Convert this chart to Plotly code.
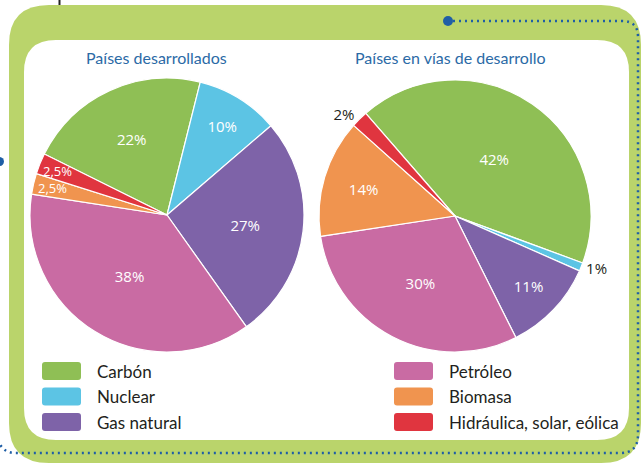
import math
import plotly.graph_objs as go

W, H = 642, 466

categorias = ['Carbón', 'Nuclear', 'Gas natural', 'Petróleo', 'Biomasa', 'Hidráulica, solar, eólica']
colores = ['#8fbf55', '#5cc4e4', '#7e63a8', '#c96ba3', '#f0944f', '#e0353f']
desarrollados = [22, 10, 27, 38, 2.5, 2.5]
en_desarrollo = [42, 1, 11, 30, 14, 2]
titulos = ['Países desarrollados', 'Países en vías de desarrollo']

AZUL = '#1f5ea6'
TITULO = '#2b6aa6'
TEXTO = '#231f20'


def px(x):
    return x / W


def py(y):
    return 1 - y / H


def p(x, y):
    return f'{px(x)},{py(y)}'


def etiqueta(v):
    return f'{v:g}'.replace('.', ',') + '%'


def rect_redondeado(x0, y0, x1, y1, r):
    return (f'M {p(x0 + r, y0)} L {p(x1 - r, y0)} Q {p(x1, y0)} {p(x1, y0 + r)} '
            f'L {p(x1, y1 - r)} Q {p(x1, y1)} {p(x1 - r, y1)} '
            f'L {p(x0 + r, y1)} Q {p(x0, y1)} {p(x0, y1 - r)} '
            f'L {p(x0, y0 + r)} Q {p(x0, y0)} {p(x0 + r, y0)} Z')


def dominio(cx, cy, r):
    return dict(x=[px(cx - r), px(cx + r)], y=[py(cy + r), py(cy - r)])


fig = go.Figure()
annotations = []

# (valores, rotación, posición del texto, centro y radio en px)
tortas = [
    (desarrollados, -63.6, ['inside', 'inside', 'inside', 'inside', 'none', 'none'], (167, 215, 137)),
    (en_desarrollo, -41, ['inside', 'outside', 'inside', 'inside', 'inside', 'outside'], (455, 216, 136)),
]
for valores, rot, posiciones, (cx, cy, r) in tortas:
    fig.add_trace(go.Pie(
        labels=categorias,
        values=valores,
        text=[etiqueta(v) for v in valores],
        texttemplate='%{text}',
        textposition=posiciones,
        insidetextorientation='horizontal',
        sort=False,
        direction='clockwise',
        rotation=rot,
        marker=dict(colors=colores, line=dict(color='white', width=1.2)),
        insidetextfont=dict(color='white', size=15, family='Open Sans'),
        outsidetextfont=dict(color=TEXTO, size=15, family='Open Sans'),
        domain=dominio(cx, cy, r),
        showlegend=False,
        hoverinfo='label+text',
    ))
    # rebanadas finas: el texto va junto al borde, sobre la propia rebanada
    total = sum(valores)
    acum = 0
    for v, pos in zip(valores, posiciones):
        medio = math.radians(rot + (acum + v / 2) / total * 360)
        acum += v
        if pos == 'none':
            annotations.append(dict(
                x=px(cx + 0.86 * r * math.sin(medio)), y=py(cy - 0.86 * r * math.cos(medio)),
                text=etiqueta(v), showarrow=False, xanchor='center', yanchor='middle',
                font=dict(family='Open Sans', size=13, color='white')))

shapes = [
    # marco verde y panel blanco
    dict(type='path', path=rect_redondeado(9, 5, 641, 463, 40), fillcolor='#bad46b', line_width=0, layer='below'),
    dict(type='path', path=rect_redondeado(24, 40, 629, 440, 32), fillcolor='white', line_width=0, layer='below'),
    # línea punteada
    dict(type='path',
         path=(f'M {p(453, 21)} L {p(622, 21)} Q {p(638, 21)} {p(638, 37)} L {p(638, 435)} '
               f'Q {p(638, 453)} {p(620, 453)} L {p(14, 453)} Q {p(2, 452)} {p(-2, 440)}'),
         line=dict(color=AZUL, width=2.5, dash='2px,4px'), layer='below'),
    dict(type='circle', x0=px(443), x1=px(453), y0=py(26), y1=py(16), fillcolor=AZUL, line_width=0),
    dict(type='circle', x0=px(-5), x1=px(4), y0=py(166), y1=py(157), fillcolor=AZUL, line_width=0),
    dict(type='line', x0=px(59.5), x1=px(59.5), y0=py(0), y1=py(5), line=dict(color='#222', width=2)),
]

for titulo, cx in zip(titulos, [156, 450]):
    annotations.append(dict(x=px(cx), y=py(58), text=titulo, showarrow=False,
                            xanchor='center', yanchor='middle',
                            font=dict(family='Lato', size=16, color=TITULO)))

# leyenda en dos columnas
for i, (cat, col) in enumerate(zip(categorias, colores)):
    x0 = [42, 394][i // 3]
    yc = 371 + (i % 3) * 25.5
    shapes.append(dict(type='path', path=rect_redondeado(x0, yc - 9, x0 + 39, yc + 9, 3),
                       fillcolor=col, line_width=0))
    annotations.append(dict(x=px(x0 + 53), y=py(yc), text=cat, showarrow=False,
                            xanchor='left', yanchor='middle',
                            font=dict(family='Lato', size=17, color=TEXTO)))

fig.update_layout(
    width=W, height=H,
    margin=dict(l=0, r=0, t=0, b=0),
    paper_bgcolor='white',
    plot_bgcolor='white',
    shapes=shapes,
    annotations=annotations,
)

fig.write_html("out.html", config={'displayModeBar': False},
               post_script="document.body.style.margin = '0';")
